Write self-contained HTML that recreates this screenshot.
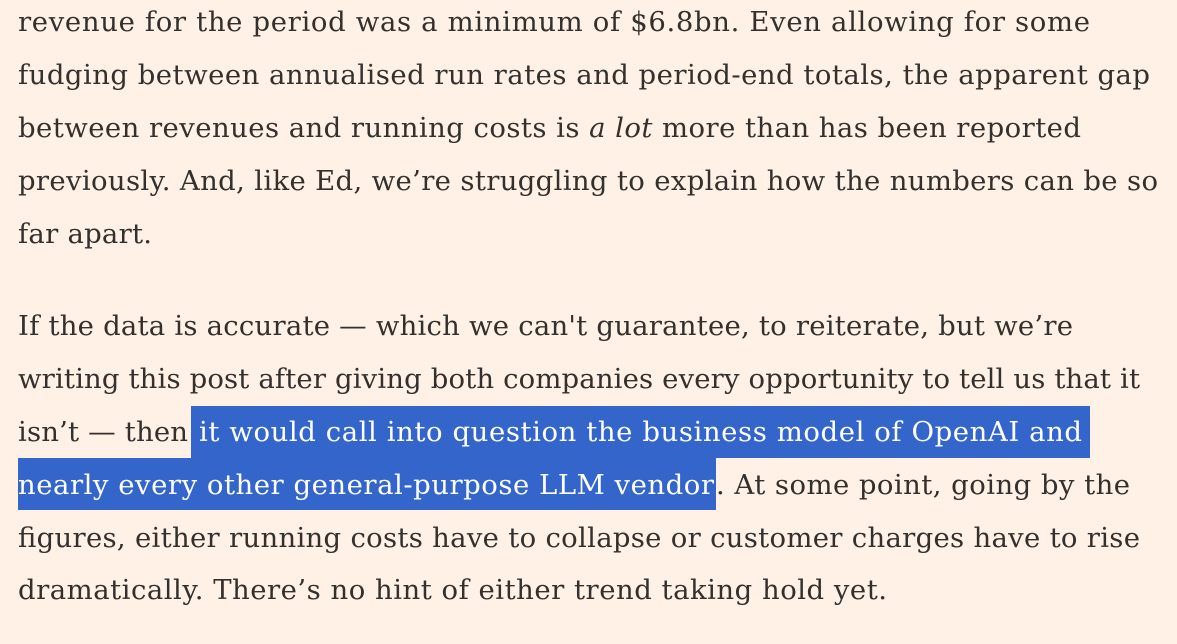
<!DOCTYPE html>
<html><head><meta charset="utf-8"><style>
html,body{margin:0;padding:0;background:#FFF1E5;width:1177px;height:644px;overflow:hidden}
svg{display:block}
text{font-family:"DejaVu Serif",serif;font-size:27.5px;fill:#33302E}
.s{fill:#fff}
</style></head><body>
<svg width="1177" height="644" xmlns="http://www.w3.org/2000/svg">
<rect x="191" y="406" width="899" height="52" fill="#3465CB"/>
<rect x="18" y="458" width="698" height="52" fill="#3465CB"/>
<text x="18" y="31" textLength="1072" lengthAdjust="spacing">revenue for the period was a minimum of $6.8bn. Even allowing for some</text>
<text x="18" y="84" textLength="1132" lengthAdjust="spacing">fudging between annualised run rates and period-end totals, the apparent gap</text>
<text x="18" y="137" textLength="1063" lengthAdjust="spacing">between revenues and running costs is <tspan font-style="italic">a lot</tspan> more than has been reported</text>
<text x="18" y="190" textLength="1140" lengthAdjust="spacing">previously. And, like Ed, we’re struggling to explain how the numbers can be so</text>
<text x="18" y="243" textLength="134" lengthAdjust="spacing">far apart.</text>
<text x="18" y="335" textLength="1055" lengthAdjust="spacing">If the data is accurate — which we can't guarantee, to reiterate, but we’re</text>
<text x="18" y="388" textLength="1122" lengthAdjust="spacing">writing this post after giving both companies every opportunity to tell us that it</text>
<text x="18" y="441" textLength="170" lengthAdjust="spacing">isn’t — then</text>
<text class="s" x="199" y="441" textLength="883" lengthAdjust="spacing">it would call into question the business model of OpenAI and</text>
<text class="s" x="18" y="494" textLength="696" lengthAdjust="spacing">nearly every other general-purpose LLM vendor</text>
<text x="716" y="494" textLength="414" lengthAdjust="spacing">. At some point, going by the</text>
<text x="18" y="547" textLength="1122" lengthAdjust="spacing">figures, either running costs have to collapse or customer charges have to rise</text>
<text x="18" y="599" textLength="869" lengthAdjust="spacing">dramatically. There’s no hint of either trend taking hold yet.</text>
</svg>
</body></html>
